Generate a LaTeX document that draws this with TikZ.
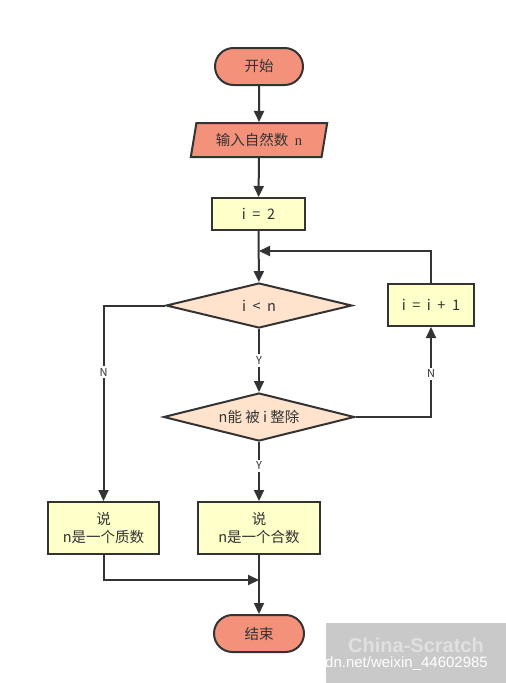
\documentclass[tikz,border=0pt]{standalone}
\usepackage{fontspec}
\setmainfont{Noto Sans CJK SC}
\newfontfamily\serifn{Liberation Serif}
\newfontfamily\wmfont{Liberation Sans}
\usetikzlibrary{arrows.meta,shapes.geometric,shapes.misc}
\definecolor{salmon}{HTML}{F4917B}
\definecolor{pale}{HTML}{FFFFC9}
\definecolor{peach}{HTML}{FFE3CC}
\definecolor{ink}{HTML}{333333}
\newcommand{\wsp}{\hspace{0.45em}}
\tikzset{
  base/.style={draw=ink, line width=2pt, text=ink, font=\fontsize{14.5}{18}\selectfont, inner sep=0pt, align=center},
  term/.style={base, rounded rectangle, fill=salmon, minimum width=88pt, minimum height=37pt},
  io/.style={base, trapezium, trapezium left angle=74, trapezium right angle=106, fill=salmon, minimum width=137pt, minimum height=34pt, trapezium stretches=true},
  proc/.style={base, rectangle, fill=pale, minimum height=32pt},
  dec/.style={base, diamond, fill=peach, minimum width=186pt, minimum height=45pt, aspect=4},
  conn/.style={draw=ink, line width=2pt, -{Triangle[length=11pt,width=10pt]}},
  lbl/.style={fill=white, text=ink, font=\fontsize{11}{13}\selectfont, inner sep=2pt}
}
\begin{document}
\begin{tikzpicture}[x=1pt,y=-1pt]
\useasboundingbox (0,0) rectangle (506,683);
\fill[white] (0,0) rectangle (506,683);
\node[term] (start) at (259,66.5) {开始};
\node[io] (input) at (259,140) {输入自然数\wsp{\serifn n}};
\node[proc, minimum width=93pt] (init) at (258.5,214) {i\wsp=\wsp2};
\node[dec, minimum width=186pt, minimum height=45pt] (d1) at (259,305.5) {i\wsp<\wsp n};
\node[dec, minimum width=191pt, minimum height=48pt] (d2) at (259,417) {n能 被 i 整除};
\node[proc, minimum width=86pt, minimum height=42pt] (inc) at (431,305) {i\wsp=\wsp i\wsp+\wsp1};
\node[proc, minimum width=111pt, minimum height=52pt] (prime) at (103.5,528) {说\\n是一个质数};
\node[proc, minimum width=122pt, minimum height=52pt] (comp) at (259,528) {说\\n是一个合数};
\node[term, minimum width=90pt] (end) at (259,633.5) {结束};
\coordinate (loopin) at (259,251);
\coordinate (merge) at (259,580);

\draw[conn] (start) -- (input);
\draw[conn] (input) -- (init);
\draw[conn] (init) -- (d1);
\draw[conn] (inc.north) |- (loopin);
\draw[conn] (d1.south) -- node[lbl, pos=0.5] {Y} (d2.north);
\draw[conn] (d2.south) -- node[lbl, pos=0.4] {Y} (comp.north);
\draw[conn] (d1.west) -| node[lbl, pos=0.67] {N} (prime.north);
\draw[conn] (d2.east) -| node[lbl, pos=0.74] {N} (inc.south);
\draw[conn] (comp.south) -- (end.north);
\draw[conn] (prime.south) |- (merge);

% watermark
\fill[black!21] (326,623) rectangle (506,683);
\node[font=\wmfont\bfseries\fontsize{20}{22}\selectfont, text=white!88!black, anchor=center, inner sep=0pt] (wm1) at (416,645) {China-Scratch};
\node[font=\wmfont\fontsize{15}{17}\selectfont, text=white, anchor=west, inner sep=0pt] (wm2) at (325,664) {dn.net/weixin\_44602985};
\end{tikzpicture}
\end{document}
